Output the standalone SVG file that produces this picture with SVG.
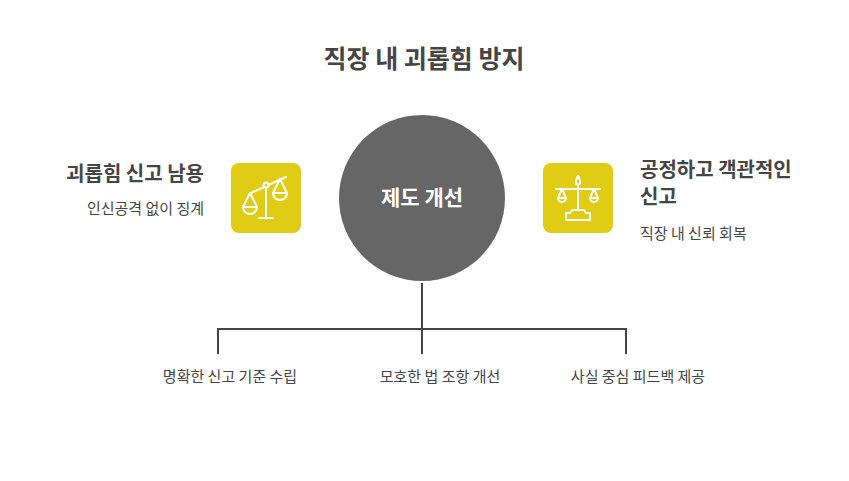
<svg xmlns="http://www.w3.org/2000/svg" width="849" height="481" viewBox="0 0 849 481">
<style>
text{font-family:"Noto Sans CJK KR","Noto Sans",sans-serif;}
.h{font-size:20px;font-weight:bold;fill:#454545}
.s{font-size:15px;fill:#454545}
.ln{stroke:#454545;stroke-width:2;fill:none}
.ic{stroke:#fff;stroke-width:2;fill:none;stroke-linecap:round;stroke-linejoin:round}
.box{fill:#e0cb15}
</style>
<rect width="849" height="481" fill="#fff"/>
<text class="h" x="424" y="68" text-anchor="middle" style="font-size:25px">직장 내 괴롭힘 방지</text>
<g id="connectors">
<path class="ln" d="M422 283V329M218 354V329H626V354M422 329V354"/>
</g>
<g id="center">
<circle cx="422" cy="198" r="83" fill="#666"/>
<text x="422" y="205" text-anchor="middle" font-size="21" font-weight="bold" fill="#fff">제도 개선</text>
</g>
<g id="left">
<rect class="box" x="231" y="163" width="70" height="70" rx="8"/>
<g class="ic">
<path d="M251 193L286 177M266 185V218M259 218H273"/>
<circle cx="266" cy="185" r="2.5" fill="#e0cb15"/>
<path d="M250 193L243 207M250 193L257 207M243 207A7 7 0 0 0 257 207Z"/>
<path d="M280 179L273 193M280 179L287 193M273 193A7 7 0 0 0 287 193Z"/>
</g>
<text class="h" x="204" y="181" text-anchor="end">괴롭힘 신고 남용</text>
<text class="s" x="204" y="214" text-anchor="end">인신공격 없이 징계</text>
</g>
<g id="right">
<rect class="box" x="543" y="163" width="70" height="70" rx="8"/>
<g class="ic">
<path d="M578 176C575 181 575 184 578 185C581 184 581 181 578 176Z"/>
<path d="M578 185V210M556 189H600M562 189L558 198M562 189L566 198M558 198H566A4 4 0 0 1 558 198M594 189L590 198M594 189L598 198M590 198H598A4 4 0 0 1 590 198"/>
<path d="M572 210H584L586 213H590V220H566V213H570Z"/>
</g>
<text class="h" x="640" y="177">공정하고 객관적인</text>
<text class="h" x="640" y="204">신고</text>
<text class="s" x="640" y="239">직장 내 신뢰 회복</text>
</g>
<g id="b1"><text class="s" x="230" y="382" text-anchor="middle">명확한 신고 기준 수립</text></g>
<g id="b2"><text class="s" x="440" y="382" text-anchor="middle">모호한 법 조항 개선</text></g>
<g id="b3"><text class="s" x="638" y="382" text-anchor="middle">사실 중심 피드백 제공</text></g>
</svg>
